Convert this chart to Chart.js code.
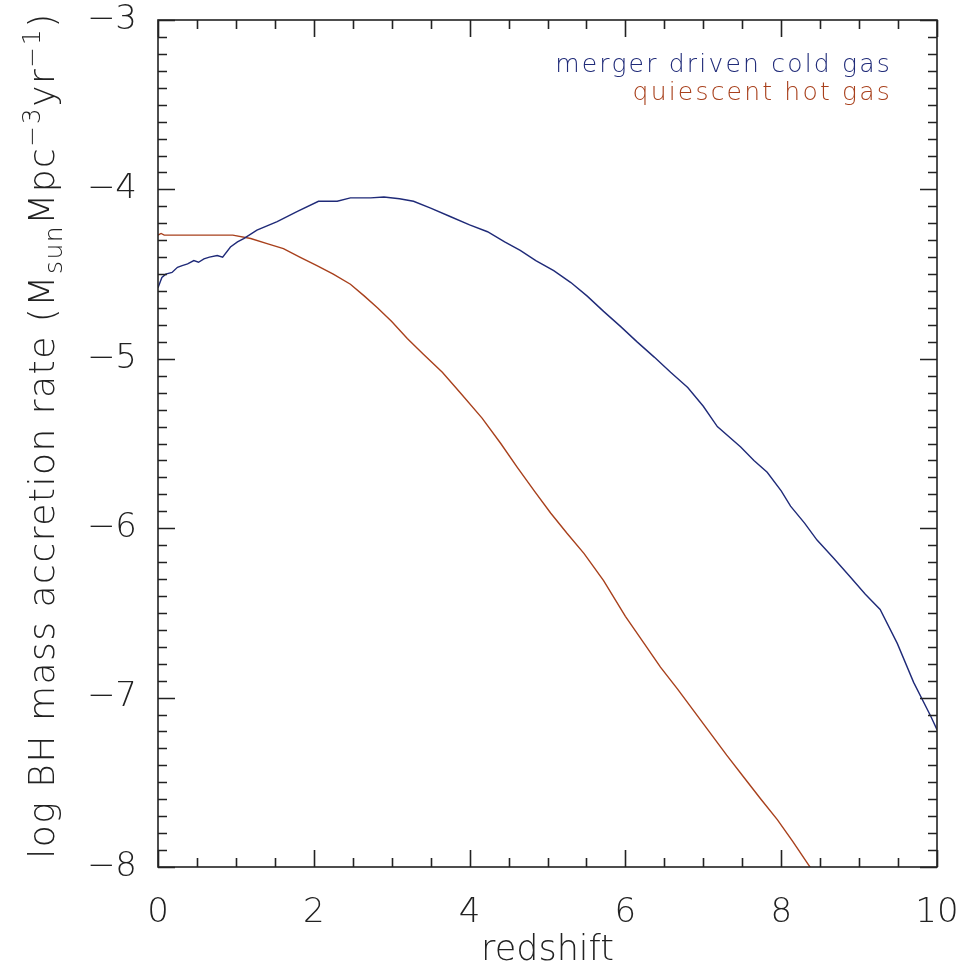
<!DOCTYPE html>
<html lang="en">
<head>
  <meta charset="UTF-8" />
  <title>BH mass accretion rate vs redshift</title>
  <script src="https://cdn.jsdelivr.net/npm/chart.js"></script>
  <style>
    body {
      background-color: #fff;
      margin: 0;
      padding: 0;
    }
    #chartContainer {
      width: 961px;
      height: 980px;
    }
  </style>
</head>
<body>
  <div id="chartContainer">
    <canvas id="chart" width="961" height="980"></canvas>
  </div>

  <script>
    // merger driven cold gas
    const coldZ = [0.00, 0.05, 0.10, 0.18, 0.25, 0.31, 0.38, 0.46, 0.52, 0.59, 0.66, 0.76, 0.83, 0.93, 1.02,
                   1.10, 1.27, 1.53, 1.79, 2.06, 2.30, 2.47, 2.73, 2.90, 3.10, 3.28, 3.50, 3.75, 4.00, 4.23,
                   4.45, 4.65, 4.85, 5.08, 5.30, 5.51, 5.72, 5.94, 6.15, 6.37, 6.58, 6.80, 7.00, 7.18, 7.48,
                   7.65, 7.82, 8.00, 8.12, 8.30, 8.46, 8.68, 8.89, 9.08, 9.27, 9.49, 9.70, 9.92, 10.00];
    const coldRate = [-4.58, -4.52, -4.50, -4.49, -4.46, -4.45, -4.44, -4.42, -4.43, -4.41, -4.40, -4.39, -4.40, -4.34, -4.31,
                      -4.29, -4.24, -4.19, -4.13, -4.07, -4.07, -4.05, -4.05, -4.045, -4.055, -4.07, -4.11, -4.16, -4.21, -4.25,
                      -4.31, -4.36, -4.42, -4.48, -4.55, -4.63, -4.72, -4.81, -4.90, -4.99, -5.08, -5.17, -5.28, -5.40, -5.52,
                      -5.60, -5.67, -5.78, -5.87, -5.97, -6.07, -6.18, -6.29, -6.39, -6.48, -6.68, -6.91, -7.11, -7.19];

    // quiescent hot gas
    const hotZ = [0.00, 0.04, 0.08, 0.50, 0.96, 1.19, 1.40, 1.61, 1.82, 2.04, 2.25, 2.47, 2.65, 2.82, 3.00,
                  3.20, 3.40, 3.65, 3.88, 4.16, 4.40, 4.61, 4.83, 5.04, 5.25, 5.47, 5.72, 6.00, 6.24, 6.45,
                  6.67, 6.88, 7.09, 7.30, 7.52, 7.74, 7.95, 8.15, 8.34, 8.40];
    const hotRate = [-4.27, -4.26, -4.27, -4.27, -4.27, -4.29, -4.32, -4.35, -4.40, -4.45, -4.50, -4.56, -4.63, -4.70, -4.78,
                     -4.88, -4.97, -5.08, -5.20, -5.35, -5.50, -5.64, -5.78, -5.91, -6.03, -6.15, -6.31, -6.52, -6.68, -6.82,
                     -6.95, -7.08, -7.21, -7.34, -7.47, -7.60, -7.72, -7.85, -7.98, -8.02];

    const seriesNames = ['merger driven cold gas', 'quiescent hot gas'];
    const seriesColors = ['#1f2a78', '#a8401c'];

    const xRange = [0, 10];
    const yRange = [-8, -3];

    const FONT = "'DejaVu Sans', sans-serif";
    const INK = '#222';

    function toPoints(xs, ys) {
      return xs.map((x, i) => ({ x: x, y: ys[i] }));
    }

    // keep the plot box fixed: no extra room for overhanging tick labels
    function fixBox(scale, key, size) {
      scale[key] = size;
      scale.paddingTop = 0;
      scale.paddingBottom = 0;
      scale.paddingLeft = 0;
      scale.paddingRight = 0;
    }

    // frame box with inward major/minor ticks on all four sides
    const framePlugin = {
      id: 'frame',
      afterDatasetsDraw(chart) {
        const { ctx, chartArea: a, scales } = chart;
        const xs = scales.x, ys = scales.y;
        const major = 17, minor = 9;
        ctx.save();
        ctx.strokeStyle = INK;
        ctx.lineWidth = 1.6;
        ctx.strokeRect(a.left, a.top, a.right - a.left, a.bottom - a.top);
        ctx.beginPath();
        for (let i = 0; i <= 20; i++) {
          const v = xRange[0] + i * 0.5;
          const px = Math.round(xs.getPixelForValue(v)) + 0.5;
          const len = (i % 4 === 0) ? major : minor;
          ctx.moveTo(px, a.bottom); ctx.lineTo(px, a.bottom - len);
          ctx.moveTo(px, a.top); ctx.lineTo(px, a.top + len);
        }
        for (let i = 0; i <= 50; i++) {
          const v = yRange[0] + i * 0.1;
          const py = Math.round(ys.getPixelForValue(v)) + 0.5;
          const len = (i % 10 === 0) ? major : minor;
          ctx.moveTo(a.left, py); ctx.lineTo(a.left + len, py);
          ctx.moveTo(a.right, py); ctx.lineTo(a.right - len, py);
        }
        ctx.stroke();

        // series labels, top right
        ctx.font = '200 25px ' + FONT;
        ctx.textAlign = 'right';
        ctx.textBaseline = 'middle';
        if ('letterSpacing' in ctx) ctx.letterSpacing = '2.2px';
        ctx.fillStyle = seriesColors[0];
        ctx.fillText(seriesNames[0], 892, 65);
        ctx.fillStyle = seriesColors[1];
        ctx.fillText(seriesNames[1], 892, 93);
        ctx.restore();
      }
    };

    // rotated y title with subscript / superscripts
    const yTitlePlugin = {
      id: 'yTitle',
      afterDraw(chart) {
        const { ctx, chartArea: a } = chart;
        const parts = [
          { t: 'log BH mass accretion rate (M', s: 0 },
          { t: 'sun', s: 1 },
          { t: 'Mpc', s: 0 },
          { t: '−3', s: -1 },
          { t: 'yr', s: 0 },
          { t: '−1', s: -1 },
          { t: ')', s: 0 }
        ];
        const big = '200 36px ' + FONT, small = '200 25px ' + FONT;
        ctx.save();
        if ('letterSpacing' in ctx) ctx.letterSpacing = '1.5px';
        let total = 0;
        parts.forEach(p => {
          ctx.font = p.s ? small : big;
          p.w = ctx.measureText(p.t).width;
          total += p.w;
        });
        ctx.translate(54, (a.top + a.bottom) / 2 - 8);
        ctx.rotate(-Math.PI / 2);
        ctx.fillStyle = INK;
        ctx.textBaseline = 'alphabetic';
        ctx.textAlign = 'left';
        let x = -total / 2;
        parts.forEach(p => {
          ctx.font = p.s ? small : big;
          const dy = p.s === 1 ? 8 : (p.s === -1 ? -14 : 0);
          ctx.fillText(p.t, x, dy);
          x += p.w;
        });
        ctx.restore();
      }
    };

    const chartCtx = document.getElementById('chart').getContext('2d');
    const chart = new Chart(chartCtx, {
      type: 'line',
      data: {
        datasets: [
          {
            label: seriesNames[0],
            data: toPoints(coldZ, coldRate),
            borderColor: seriesColors[0],
            borderWidth: 1.4,
            pointRadius: 0,
            tension: 0
          },
          {
            label: seriesNames[1],
            data: toPoints(hotZ, hotRate),
            borderColor: seriesColors[1],
            borderWidth: 1.4,
            pointRadius: 0,
            tension: 0
          }
        ]
      },
      options: {
        responsive: false,
        animation: false,
        layout: {
          autoPadding: false,
          padding: { top: 20, right: 24, bottom: 0, left: 0 }
        },
        plugins: {
          legend: { display: false },
          tooltip: { enabled: false }
        },
        scales: {
          x: {
            type: 'linear',
            min: xRange[0],
            max: xRange[1],
            grid: { display: false },
            border: { display: false },
            ticks: {
              stepSize: 2,
              color: INK,
              padding: 18,
              maxRotation: 0,
              font: { family: FONT, size: 34, weight: 200 }
            },
            title: {
              display: true,
              text: 'redshift',
              color: INK,
              padding: { top: 0, bottom: 8 },
              font: { family: FONT, size: 35, weight: 200 }
            },
            afterFit(scale) { fixBox(scale, 'height', 113); }
          },
          y: {
            type: 'linear',
            min: yRange[0],
            max: yRange[1],
            grid: { display: false },
            border: { display: false },
            ticks: {
              stepSize: 1,
              color: INK,
              padding: 13,
              font: { family: FONT, size: 34, weight: 200 },
              callback: v => (v < 0 ? '−' : '') + Math.abs(v)
            },
            afterFit(scale) { fixBox(scale, 'width', 158); }
          }
        }
      },
      plugins: [framePlugin, yTitlePlugin]
    });
  </script>
</body>
</html>
